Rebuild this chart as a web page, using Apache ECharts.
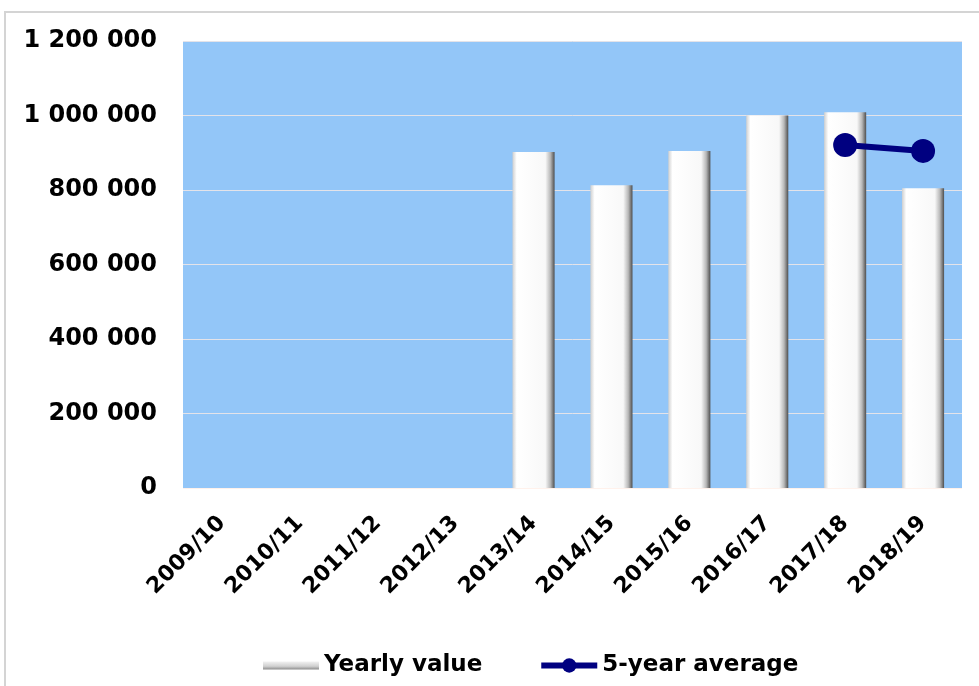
<!DOCTYPE html>
<html>
<head>
<meta charset="utf-8">
<title>Yearly value</title>
<script src="https://cdn.jsdelivr.net/npm/echarts@6/dist/echarts.min.js"></script>
<style>
  html, body { margin: 0; padding: 0; background: #fff; }
  #chart { width: 979px; height: 686px; }
</style>
</head>
<body>
<div id="chart"></div>
<script>
// seasons on the x axis
const seasons = ['2009/10', '2010/11', '2011/12', '2012/13', '2013/14',
  '2014/15', '2015/16', '2016/17', '2017/18', '2018/19']
// yearly values (no data before 2013/14)
const yearlyValue = [null, null, null, null, 902000, 813000, 905000, 1000000, 1009000, 805000]
// 5-year average, only the last two seasons
const fiveYearAvg = [null, null, null, null, null, null, null, null, 921000, 905000]

const yTicks = { min: 0, max: 1200000, step: 200000 }

const myChart = echarts.init(document.getElementById('chart'))

function spaced(v) {
  return String(v).replace(/\B(?=(\d{3})+(?!\d))/g, ' ')
}

const barColor = new echarts.graphic.LinearGradient(0, 0, 1, 0, [
  { offset: 0, color: '#cfcfcf' },
  { offset: 0.1, color: '#ffffff' },
  { offset: 0.78, color: '#f8f8f8' },
  { offset: 0.9, color: '#b8b8b8' },
  { offset: 1, color: '#4e4e4e' }
])

const legendBar = new echarts.graphic.LinearGradient(0, 0, 0, 1, [
  { offset: 0, color: '#f2f2f2' },
  { offset: 0.6, color: '#d0d0d0' },
  { offset: 1, color: '#8c8c8c' }
])

const option = {
  animation: false,
  textStyle: { fontFamily: 'DejaVu Sans' },
  graphic: [
    {
      type: 'rect',
      shape: { x: 5, y: 12, width: 980, height: 690 },
      style: { fill: 'none', stroke: '#d4d4d4', lineWidth: 2 },
      silent: true
    }
  ],
  grid: {
    left: 183,
    right: 17,
    top: 41,
    bottom: 198,
    show: true,
    backgroundColor: '#93c6f8',
    borderWidth: 0
  },
  legend: {
    left: 258,
    top: 649,
    itemGap: 56,
    itemWidth: 56,
    itemHeight: 18,
    textStyle: { fontSize: 23, fontWeight: 'bold', color: '#000' },
    data: [
      {
        name: 'Yearly value',
        icon: 'path://M0,7 L56,7 L56,15 L0,15 Z',
        itemStyle: { color: legendBar }
      },
      {
        name: '5-year average',
        lineStyle: { width: 6, color: '#000080' }
      }
    ]
  },
  xAxis: {
    type: 'category',
    data: seasons,
    axisLine: { show: false },
    axisTick: { show: false },
    axisLabel: {
      interval: 0,
      rotate: 45,
      margin: 32,
      fontSize: 22,
      fontWeight: 'bold',
      color: '#000'
    }
  },
  yAxis: {
    type: 'value',
    min: yTicks.min,
    max: yTicks.max,
    interval: yTicks.step,
    axisLine: { show: false },
    axisTick: { show: false },
    splitLine: { lineStyle: { color: 'rgba(255,236,228,0.75)', width: 1 } },
    axisLabel: {
      margin: 26,
      fontSize: 24,
      fontWeight: 'bold',
      color: '#000',
      formatter: spaced
    }
  },
  series: [
    {
      name: 'Yearly value',
      type: 'bar',
      barWidth: '54%',
      itemStyle: { color: barColor },
      data: yearlyValue
    },
    {
      name: '5-year average',
      type: 'line',
      symbol: 'circle',
      symbolSize: 24,
      itemStyle: { color: '#000080' },
      lineStyle: { color: '#000080', width: 6 },
      data: fiveYearAvg
    }
  ]
}

option && myChart.setOption(option)
</script>
</body>
</html>
